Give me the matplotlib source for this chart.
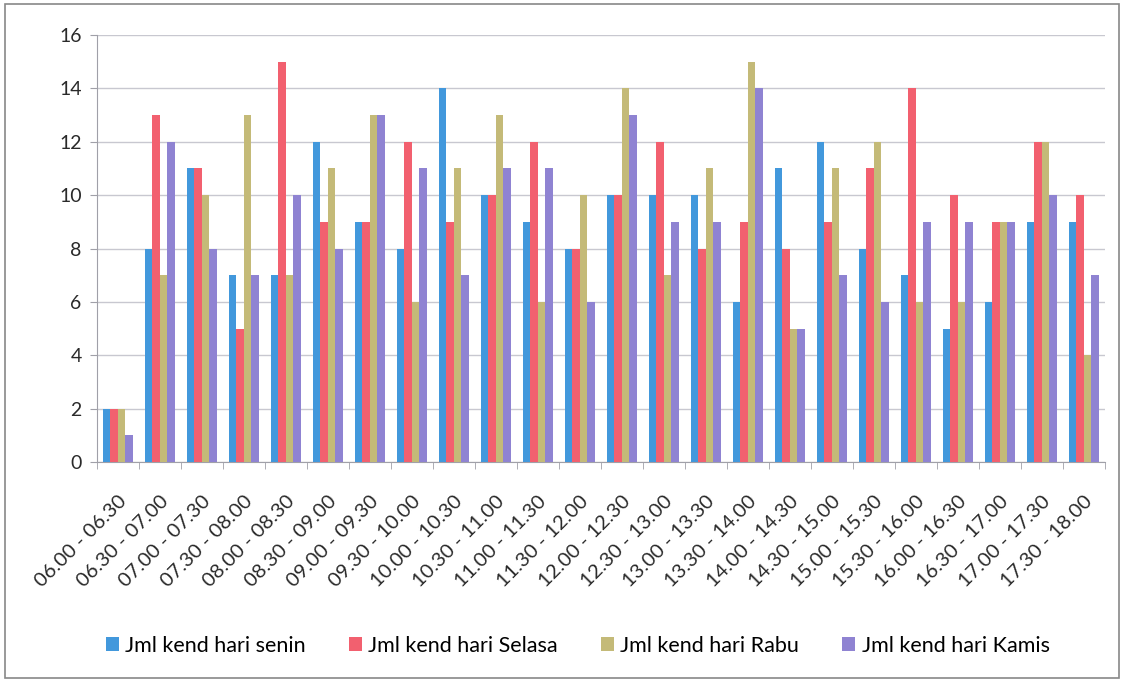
import numpy as np
import matplotlib
matplotlib.use("Agg")
import matplotlib.pyplot as plt
from matplotlib.patches import Rectangle

plt.rcParams['font.family'] = ['Lato', 'DejaVu Sans']

slots = ["06.00 - 06.30", "06.30 - 07.00", "07.00 - 07.30", "07.30 - 08.00",
         "08.00 - 08.30", "08.30 - 09.00", "09.00 - 09.30", "09.30 - 10.00",
         "10.00 - 10.30", "10.30 - 11.00", "11.00 - 11.30", "11.30 - 12.00",
         "12.00 - 12.30", "12.30 - 13.00", "13.00 - 13.30", "13.30 - 14.00",
         "14.00 - 14.30", "14.30 - 15.00", "15.00 - 15.30", "15.30 - 16.00",
         "16.00 - 16.30", "16.30 - 17.00", "17.00 - 17.30", "17.30 - 18.00"]

senin  = [2, 8, 11, 7, 7, 12, 9, 8, 14, 10, 9, 8, 10, 10, 10, 6, 11, 12, 8, 7, 5, 6, 9, 9]
selasa = [2, 13, 11, 5, 15, 9, 9, 12, 9, 10, 12, 8, 10, 12, 8, 9, 8, 9, 11, 14, 10, 9, 12, 10]
rabu   = [2, 7, 10, 13, 7, 11, 13, 6, 11, 13, 6, 10, 14, 7, 11, 15, 5, 11, 12, 6, 6, 9, 12, 4]
kamis  = [1, 12, 8, 7, 10, 8, 13, 11, 7, 11, 11, 6, 13, 9, 9, 14, 5, 7, 6, 9, 9, 9, 10, 7]

names = ["Jml kend hari senin", "Jml kend hari Selasa", "Jml kend hari Rabu", "Jml kend hari Kamis"]
colors = ["#4298dc", "#f2606f", "#c4ba78", "#8f83d2"]

fig = plt.figure(figsize=(11.26, 6.82), dpi=100)
ax = fig.add_axes([0.0861, 0.3226, 0.895, 0.626])

x = np.arange(len(slots))
w = 0.178
for i, (vals, name, c) in enumerate(zip([senin, selasa, rabu, kamis], names, colors)):
    ax.bar(x + (i - 1.5) * w, vals, width=w, color=c, label=name, zorder=3)

ax.set_xlim(-0.5, len(slots) - 0.5)
ax.set_ylim(0, 16)
ax.set_yticks(range(0, 17, 2))
ax.tick_params(axis='y', labelsize=14, colors='#2a2a2a', length=5, color='#a0a0a8', pad=6)
ax.yaxis.grid(True, color='#c8c8d0', linewidth=1, zorder=0)

# category labels centred on bars, tick marks on group boundaries
ax.set_xticks(x)
ax.set_xticklabels(slots, rotation=45, ha='right', rotation_mode='anchor', fontsize=14.5, color='#2a2a2a')
ax.tick_params(axis='x', length=0, pad=22)
ax.set_xticks(np.arange(-0.5, len(slots), 1), minor=True)
ax.tick_params(axis='x', which='minor', length=5, color='#a0a0a8')

for s in ['top', 'right']:
    ax.spines[s].set_visible(False)
ax.spines['left'].set_color('#a0a0a8')
ax.spines['bottom'].set_color('#a0a0a8')

fig.legend(loc='lower center', bbox_to_anchor=(0.513, 0.01), ncol=4, frameon=False,
           fontsize=15.5, handlelength=0.6, handleheight=0.6, handletextpad=0.3, columnspacing=2.0)

fig.patches.append(Rectangle((0.004, 0.006), 0.99, 0.988, transform=fig.transFigure,
                             fill=False, edgecolor='#888888', linewidth=1.2))

fig.savefig("out.png", dpi=100)
